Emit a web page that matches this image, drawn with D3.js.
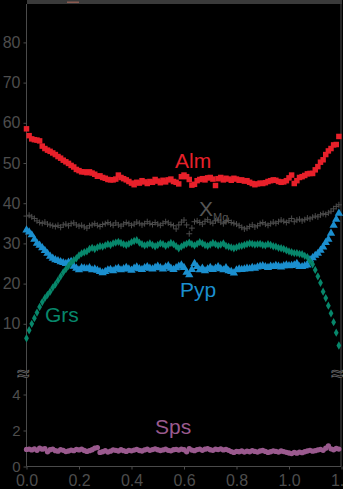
<!DOCTYPE html>
<html>
<head>
<meta charset="utf-8">
<script src="https://cdn.jsdelivr.net/npm/d3@7"></script>
<style>
  html, body { margin: 0; padding: 0; background: #000; }
  svg { display: block; }
</style>
</head>
<body>
<div class="chart"></div>
<script>
// garnet zoning profile, distance in mm, one analysis every 0.01
const step = 0.01;
const xTicks = [0, 0.2, 0.4, 0.6, 0.8, 1.0, 1.2];
const upperTicks = [10, 20, 30, 40, 50, 60, 70, 80];
const lowerTicks = [0, 2, 4];

const alm = [
  58.5, 56.8, 56.0, 55.8, 55.7, 55.5, 54.2, 53.6, 53.2, 52.9,
  52.5, 52.1, 51.6, 51.2, 50.7, 50.3, 49.9, 49.4, 49.0, 48.4,
  48.1, 47.8, 47.8, 47.6, 47.8, 47.5, 47.2, 46.7, 46.8, 46.4,
  46.2, 45.9, 45.8, 45.8, 46.0, 47.0, 46.4, 46.1, 45.8, 45.4,
  45.0, 44.6, 45.2, 45.0, 45.6, 45.3, 44.9, 45.4, 45.2, 45.9,
  45.5, 45.1, 45.7, 45.3, 45.8, 46.0, 45.4, 45.2, 44.8, 46.6,
  47.0, 46.6, 45.9, 44.5, 44.7, 45.6, 45.9, 46.1, 45.8, 46.3,
  46.4, 46.0, 44.4, 46.1, 46.4, 45.8, 46.2, 46.0, 45.7, 46.2,
  46.0, 45.7, 45.8, 45.5, 45.6, 45.2, 44.9, 44.6, 44.8, 45.0,
  44.9, 45.1, 45.4, 45.6, 45.8, 45.7, 45.4, 45.2, 45.3, 45.6,
  46.3, 47.0, 44.9, 45.6, 46.4, 46.6, 46.9, 47.3, 47.4, 47.4,
  48.3, 49.1, 50.2, 50.8, 52.1, 53.0, 53.6, 54.5, 54.6, 56.6
];
const xmg = [
  36.8, 37.0, 36.6, 36.2, 35.6, 35.2, 35.0, 35.3, 34.8, 34.6,
  34.4, 34.2, 34.5, 34.0, 34.6, 34.8, 34.4, 34.9, 35.1, 34.6,
  34.3, 34.5, 34.1, 33.8, 34.4, 34.6, 34.9, 34.5, 34.2, 34.7,
  34.9, 35.2, 34.8, 34.5, 35.1, 34.6, 34.3, 34.8, 35.2, 34.9,
  34.5, 34.8, 35.3, 35.0, 34.6, 34.9, 35.4, 35.0, 34.7, 35.2,
  34.8, 34.5, 35.0, 35.4, 35.1, 34.7, 34.4, 33.6, 34.6, 35.3,
  35.8, 34.6, 32.4, 33.8, 35.4, 35.6, 35.2, 34.8, 35.5, 35.9,
  35.3, 35.0, 35.6, 35.8, 35.3, 34.9, 35.4, 35.7, 35.2, 35.0,
  34.8, 34.4, 34.0, 33.6, 33.8, 34.2, 34.6, 34.1, 34.4, 34.9,
  35.2, 34.8, 34.5, 34.9, 35.3, 35.0, 35.4, 35.8, 35.5, 35.2,
  35.6, 36.2, 35.4, 35.8, 36.0, 35.6, 35.9, 36.3, 36.1, 36.5,
  36.8, 36.6, 37.1, 37.4, 37.2, 37.6, 38.0, 38.6, 39.2, 39.6
];
const pyp = [
  33.3, 32.8, 32.1, 31.0, 30.0, 29.5, 28.9, 28.2, 27.5, 26.8,
  26.3, 25.9, 25.7, 25.4, 25.2, 25.0, 25.3, 25.5, 24.3, 23.8,
  23.4, 23.9, 23.8, 23.7, 23.9, 23.4, 23.6, 23.3, 23.0, 22.7,
  23.0, 23.4, 23.5, 23.2, 23.6, 23.8, 23.4, 23.7, 24.0, 23.6,
  23.3, 23.8, 24.1, 23.7, 23.5, 23.9, 24.2, 23.8, 23.6, 24.0,
  24.3, 23.9, 23.6, 24.1, 24.4, 23.8, 23.5, 23.9, 24.3, 24.6,
  24.0, 22.8, 22.2, 23.5, 25.0, 24.2, 23.4, 23.8, 23.2, 23.6,
  24.0, 23.5, 23.8, 24.2, 23.7, 23.4, 23.9, 23.2, 23.0, 22.6,
  23.4, 23.6, 23.5, 23.6, 23.8, 23.7, 24.0, 23.8, 24.1, 24.3,
  24.4, 24.2, 24.0, 24.3, 24.2, 24.5, 24.3, 24.1, 24.4, 24.6,
  24.4, 24.5, 24.6, 25.0, 24.2, 24.2, 24.4, 24.6, 25.9, 26.4,
  27.0, 27.5, 28.3, 29.1, 30.2, 31.0, 32.5, 34.5, 36.0, 37.5
];
const grs = [
  6.4, 8.4, 10.0, 11.4, 12.8, 14.2, 15.4, 16.4, 17.2, 18.0,
  19.0, 19.8, 20.8, 21.8, 22.8, 23.6, 24.4, 25.2, 25.8, 26.3,
  27.0, 27.5, 27.8, 28.0, 28.6, 28.9, 28.6, 29.0, 29.3, 29.2,
  29.5, 29.8, 29.6, 30.0, 30.2, 30.4, 30.1, 29.8, 29.6, 29.9,
  30.3, 30.6, 30.8, 30.2, 29.8, 29.5, 29.7, 30.0, 29.6, 29.3,
  29.6, 30.0, 29.8, 29.4, 29.7, 30.1, 29.8, 29.3, 28.8, 29.2,
  29.6, 29.9, 30.2, 29.8, 29.5, 29.9, 30.3, 30.0, 29.6, 29.4,
  29.7, 30.1, 29.8, 29.5, 29.7, 30.0, 29.4, 29.2, 29.0, 28.8,
  29.0, 29.3, 29.4, 29.6, 29.8, 30.0, 29.9, 29.7, 29.8, 29.9,
  29.6, 29.5, 29.8, 29.6, 29.3, 29.2, 28.9, 28.8, 28.6, 28.3,
  28.0, 27.8, 27.6, 27.6, 27.4, 27.3, 26.9, 26.6, 25.6, 24.8,
  23.4, 21.8, 20.2, 18.0, 16.4, 14.5, 12.6, 10.4, 7.8, 4.6
];
const sps = [
  0.95, 0.97, 0.92, 0.98, 0.90, 1.02, 0.96, 0.99, 0.82, 0.93,
  0.97, 0.88, 0.85, 0.94, 0.90, 0.83, 0.86, 0.91, 0.88, 0.95,
  0.92, 0.96, 0.89, 0.84, 0.88, 0.93, 1.02, 1.05, 0.78, 0.82,
  0.88, 0.80, 0.85, 0.92, 0.90, 0.86, 0.93, 0.88, 0.84, 0.90,
  0.87, 0.91, 0.95, 0.89, 0.86, 0.92, 0.96, 0.90, 0.94, 0.98,
  0.93, 0.89, 0.92, 0.96, 0.90, 0.87, 0.93, 0.95, 0.91, 0.97,
  0.93, 0.82, 0.99, 0.91, 0.88, 0.94, 0.97, 0.90, 0.96, 0.99,
  0.93, 0.90, 0.96, 0.94, 0.98, 0.92, 0.95, 0.90, 0.83, 0.78,
  0.84, 0.82, 0.86, 0.80, 0.85, 0.82, 0.88, 0.84, 0.80, 0.86,
  0.89, 0.84, 0.78, 0.82, 0.87, 0.84, 0.80, 0.86, 0.83, 0.79,
  0.75, 0.72, 0.78, 0.74, 0.80, 0.77, 0.82, 0.86, 0.90, 0.85,
  0.88, 0.92, 0.95, 0.90, 1.02, 1.15, 0.98, 0.93, 1.00, 0.97
];

const width = 343;
const height = 489;
const axisColor = '#4a4a4a';
const textColor = '#4d4d4d';
const font = '"Liberation Sans", Arial, sans-serif';

const svg = d3
  .select('.chart')
  .append('svg')
  .attr('width', width)
  .attr('height', height)
  .style('background', '#000');

const xscale = d3.scaleLinear().domain([0, 1.2]).range([26.5, 341.5]);
const yUpper = d3.scaleLinear().domain([0, 90]).range([364, 2.2]);
const yLower = d3.scaleLinear().domain([0, 5]).range([466.5, 376.5]);

// grey strip across the top of the frame
svg
  .append('rect')
  .attr('x', 27)
  .attr('y', 0)
  .attr('width', 315)
  .attr('height', 4)
  .attr('fill', '#3a3a3a');
svg
  .append('rect')
  .attr('x', 67)
  .attr('y', 1.5)
  .attr('width', 12)
  .attr('height', 1.5)
  .attr('fill', '#8a5a50');

// left axis, upper part
const upperAxis = d3
  .axisLeft(yUpper)
  .tickValues(upperTicks)
  .tickSize(3)
  .tickPadding(3)
  .tickFormat(d3.format('d'));
const gUp = svg
  .append('g')
  .attr('transform', 'translate(26.5,0)')
  .call(upperAxis);

const lowerAxis = d3
  .axisLeft(yLower)
  .tickValues(lowerTicks)
  .tickSize(3)
  .tickPadding(3)
  .tickFormat(d3.format('d'));
const gLow = svg
  .append('g')
  .attr('transform', 'translate(26.5,0)')
  .call(lowerAxis);

const x_axis = d3
  .axisBottom(xscale)
  .tickValues(xTicks)
  .tickSize(3)
  .tickPadding(4)
  .tickFormat(d3.format('.1f'));
const gX = svg
  .append('g')
  .attr('transform', 'translate(0,' + yLower(0) + ')')
  .call(x_axis);

[gUp, gLow, gX].forEach(g => {
  g.select('.domain').remove();
  g.selectAll('line').attr('stroke', axisColor);
  g.selectAll('text')
    .attr('fill', textColor)
    .style('font-family', font)
    .style('font-size', '16px');
});
gLow.selectAll('text').style('font-size', '15px');
gX.selectAll('text').attr('dy', '0.75em');

// frame lines
svg
  .append('line')
  .attr('x1', 26.5)
  .attr('x2', 26.5)
  .attr('y1', 4)
  .attr('y2', yLower(0))
  .attr('stroke', axisColor);
svg
  .append('line')
  .attr('x1', 341)
  .attr('x2', 341)
  .attr('y1', 4)
  .attr('y2', yLower(0))
  .attr('stroke', axisColor);
svg
  .append('line')
  .attr('x1', 26.5)
  .attr('x2', 341)
  .attr('y1', yLower(0))
  .attr('y2', yLower(0))
  .attr('stroke', axisColor);

// axis break marks
[23, 337].forEach(bx => {
  svg
    .append('text')
    .attr('x', bx)
    .attr('y', 381)
    .attr('text-anchor', 'middle')
    .attr('fill', '#000')
    .attr('stroke', '#6a6a6a')
    .attr('stroke-width', 0.8)
    .style('font-family', font)
    .style('font-size', '22px')
    .text('≈');
});

const plot = (data, yscale, cls) =>
  svg
    .append('g')
    .attr('class', cls)
    .selectAll('path')
    .data(data)
    .enter()
    .append('path')
    .attr('transform', (d, i) => 'translate(' + xscale(i * step) + ',' + yscale(d) + ')');

// X_Mg crosses
plot(xmg, yUpper, 'xmg')
  .attr('d', 'M-3,0H3M0,-3V3')
  .attr('stroke', '#4b4b4b')
  .attr('stroke-width', 1)
  .attr('fill', 'none');

// Pyp triangles
plot(pyp, yUpper, 'pyp')
  .attr('d', d3.symbol().type(d3.symbolTriangle).size(30))
  .attr('fill', '#1b8fcf');

// Grs diamonds
plot(grs, yUpper, 'grs')
  .attr('d', d3.symbol().type(d3.symbolDiamond).size(20))
  .attr('fill', '#07876b');

// Alm squares
plot(alm, yUpper, 'alm')
  .attr('d', d3.symbol().type(d3.symbolSquare).size(30))
  .attr('fill', '#e8202a');

// Sps circles
plot(sps, yLower, 'sps')
  .attr('d', d3.symbol().type(d3.symbolCircle).size(22))
  .attr('fill', '#9a5a8e');

// series labels
const labels = [
  { t: 'Alm', x: 175, y: 168, c: '#e8202a' },
  { t: 'Pyp', x: 180, y: 297, c: '#1b8fcf' },
  { t: 'Grs', x: 45, y: 322, c: '#07876b' },
  { t: 'Sps', x: 155, y: 434, c: '#9a5a8e' }
];
labels.forEach(l => {
  svg
    .append('text')
    .attr('x', l.x)
    .attr('y', l.y)
    .attr('fill', l.c)
    .style('font-family', font)
    .style('font-size', '21px')
    .text(l.t);
});

const xmgLabel = svg
  .append('text')
  .attr('x', 199)
  .attr('y', 216)
  .attr('fill', '#555')
  .style('font-family', font)
  .style('font-size', '21px');
xmgLabel.append('tspan').text('X');
xmgLabel
  .append('tspan')
  .attr('dy', 5)
  .style('font-size', '11px')
  .text('Mg');
</script>
</body>
</html>
